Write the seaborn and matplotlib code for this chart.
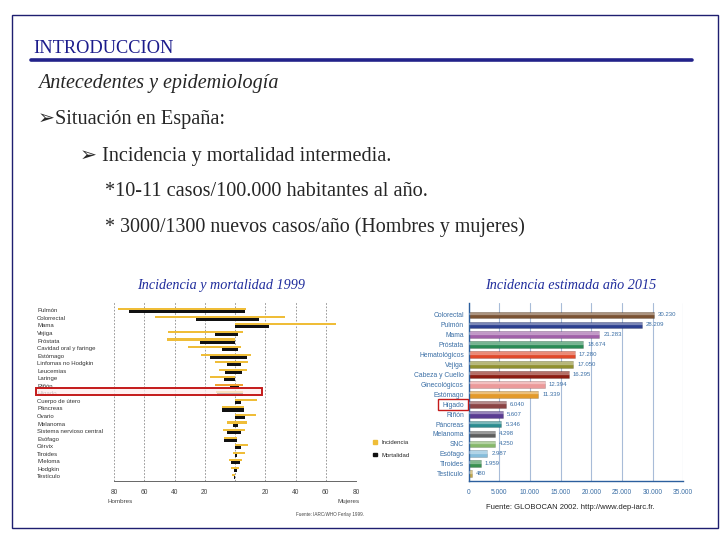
import pandas as pd
import matplotlib.pyplot as plt
import matplotlib.patches as mpatches
from matplotlib.lines import Line2D
import seaborn as sns

# Left chart data (rates per 100.000, 1999)
cancers_99 = ["Pulmón", "Colorrectal", "Mama", "Vejiga", "Próstata", "Cavidad oral y faringe",
              "Estómago", "Linfomas no Hodgkin", "Leucemias", "Laringe", "Riñón", "Hígado",
              "Cuerpo de útero", "Páncreas", "Ovario", "Melanoma", "Sistema nervioso central",
              "Esófago", "Cérvix", "Tiroides", "Mieloma", "Hodgkin", "Testículo"]
inc_men = [77.6, 52.6, 0, 44.5, 45, 31, 22.4, 13.2, 10.9, 16.8, 13.5, 12.5,
           0, 8.4, 0, 5.3, 8.1, 7.5, 0, 1.5, 4, 2.8, 2.2]
inc_women = [7.4, 32.8, 66.5, 5, 0, 4.2, 10.5, 8.8, 7.8, 0.3, 5.5, 5.5,
             14.7, 6, 13.6, 8.1, 6.4, 1.5, 8.6, 6.4, 4.4, 2.6, 0]
mort_men = [70, 26.1, 0, 12.9, 23, 8.9, 16.2, 5, 6.4, 7.4, 3.5, 11.9,
            0, 8.8, 0, 1.5, 5.5, 7.3, 0, 0.3, 2.4, 0.9, 0.5]
mort_women = [6.6, 15.6, 22.4, 2.2, 0, 1.7, 7.8, 3.7, 4.7, 0.2, 2.4, 5.3,
              3.8, 6, 6.8, 2, 4.2, 1.5, 3.7, 1, 3.3, 1, 0]
left_ticks = [-80, -60, -40, -20, 0, 20, 40, 60, 80]
left_ticklabels = ["80", "60", "40", "20", "", "20", "40", "60", "80"]

# Right chart data (estimated cases 2015)
cancers_15 = ["Colorectal", "Pulmón", "Mama", "Próstata", "Hematológicos", "Vejiga",
              "Cabeza y Cuello", "Ginecológicos", "Estómago", "Hígado", "Riñón", "Páncreas",
              "Melanoma", "SNC", "Esófago", "Tiroides", "Testículo"]
cases_15 = [30230, 28209, 21283, 18674, 17280, 17050, 16295, 12394, 11339,
            6040, 5607, 5346, 4298, 4250, 2987, 1959, 480]
bar_colors = ["#7a5233", "#2c3f8f", "#a060a8", "#2a8a55", "#e0492a", "#909030",
              "#8c1c12", "#eb9a9a", "#e39a2a", "#8c4545", "#5a3c92", "#2c8c90",
              "#5e5e5e", "#86b86a", "#86bddb", "#3a9050", "#c4a84a"]
right_ticks = [0, 5000, 10000, 15000, 20000, 25000, 30000, 35000]

sns.set_theme(style="white")
plt.rcParams["font.family"] = ["Liberation Sans", "DejaVu Sans"]
serif = ["Liberation Serif", "DejaVu Sans"]

W, H = 728, 546
fig = plt.figure(figsize=(7.28, 5.46), dpi=100)


def fx(x):
    return x / W


def fy(y):
    return 1 - y / H


# Slide frame and header
fig.add_artist(mpatches.Rectangle((fx(12), fy(528)), fx(706), (528 - 15) / H, fill=False,
                                  edgecolor="#1e1e70", lw=1.0, transform=fig.transFigure))
fig.add_artist(Line2D([fx(31), fx(692)], [fy(60), fy(60)], color="#22228a", lw=2.6,
                      transform=fig.transFigure))
fig.text(fx(33), fy(53), "INTRODUCCION", color="#1c1c8c", fontsize=13.2, family=serif)
fig.text(fx(38), fy(88), "Antecedentes y epidemiología", fontsize=14.5, style="italic", family=serif)
fig.text(fx(38), fy(124), "➢Situación en España:", fontsize=14.6, family=serif)
fig.text(fx(80), fy(161), "➢ Incidencia y mortalidad intermedia.", fontsize=14.6, family=serif)
fig.text(fx(105), fy(196), "*10-11 casos/100.000 habitantes al año.", fontsize=14.6, family=serif)
fig.text(fx(105), fy(232), "* 3000/1300 nuevos casos/año (Hombres y mujeres)", fontsize=14.4, family=serif)

fig.text(fx(221), fy(289), "Incidencia y mortalidad 1999", fontsize=10.2, style="italic",
         family=serif, color="#1f2c9c", ha="center")
fig.text(fx(571), fy(289), "Incidencia estimada año 2015", fontsize=10.2, style="italic",
         family=serif, color="#1f2c9c", ha="center")

# ---- Left chart: pyramid of incidence / mortality
ax1 = fig.add_axes([fx(114), fy(481), fx(356 - 114), (481 - 302) / H])
men = pd.DataFrame({
    "cancer": cancers_99 * 2,
    "tipo": ["Incidencia"] * len(cancers_99) + ["Mortalidad"] * len(cancers_99),
    "valor": [-v for v in inc_men] + [-v for v in mort_men],
})
women = pd.DataFrame({
    "cancer": cancers_99 * 2,
    "tipo": ["Incidencia"] * len(cancers_99) + ["Mortalidad"] * len(cancers_99),
    "valor": inc_women + mort_women,
})
pal = {"Incidencia": "#efbd38", "Mortalidad": "#111111"}
for d in (men, women):
    sns.barplot(data=d, x="valor", y="cancer", hue="tipo", hue_order=["Incidencia", "Mortalidad"],
                palette=pal, orient="h", width=0.8, dodge=True, saturation=1,
                legend=False, ax=ax1, linewidth=0)

# incidence bars a bit thinner; Riñón incidence highlighted in orange
ri = cancers_99.index("Riñón")
for p in ax1.patches:
    y0, h = p.get_y(), p.get_height()
    yc = y0 + h / 2
    if yc < round(yc):
        p.set_y(y0 + h * 0.3)
        p.set_height(h * 0.7)
        if round(yc) == ri:
            p.set_facecolor("#f0a030")

ax1.set_xlim(-80, 80)
ax1.set_ylim(len(cancers_99) - 0.4, -1.1)
ax1.set_xticks(left_ticks)
ax1.set_xticklabels(left_ticklabels)
ax1.set_yticks(range(len(cancers_99)))
ax1.set_yticklabels(cancers_99, ha="left", fontsize=4.3, color="#333333")
ax1.tick_params(axis="y", length=0, pad=(114 - 37) * 0.72)
ax1.tick_params(axis="x", length=2, direction="in", labelsize=4.8, colors="#444444", pad=6)
ax1.set_xlabel("")
ax1.set_ylabel("")
ax1.grid(axis="x", ls=(0, (2, 2)), color="#888888", lw=0.6)
ax1.grid(axis="y", visible=False)
ax1.set_axisbelow(True)
for s in ("top", "right", "left"):
    ax1.spines[s].set_visible(False)
ax1.spines["bottom"].set_color("#666666")
ax1.spines["bottom"].set_linewidth(0.7)

fig.text(fx(107), fy(503), "Hombres", fontsize=4.5, color="#444444")
fig.text(fx(360), fy(503), "Mujeres", fontsize=4.5, color="#444444", ha="right")
fig.text(fx(330), fy(516), "Fuente: IARC/WHO Ferlay 1999.", fontsize=3.3, color="#444444", ha="center")

handles = [mpatches.Patch(color=pal["Incidencia"], label="Incidencia"),
           mpatches.Patch(color=pal["Mortalidad"], label="Mortalidad")]
fig.legend(handles=handles, loc="center left", bbox_to_anchor=(fx(368), fy(449)), frameon=False,
           fontsize=4.3, handlelength=0.6, handleheight=0.6, handletextpad=0.8, labelspacing=1.2)

# red box around Hígado row
fig.add_artist(mpatches.Rectangle((fx(36), fy(394.5)), fx(262 - 36), 6.5 / H,
                                  facecolor=(1, 0.93, 0.93, 0.75), edgecolor="#c41a1a", lw=1.4,
                                  transform=fig.transFigure, zorder=5))

# ---- Right chart: estimated incidence 2015
ax2 = fig.add_axes([fx(468.7), fy(481), fx(683.3 - 468.7), (481 - 303) / H])
df15 = pd.DataFrame({"cancer": cancers_15, "casos": cases_15})
sns.barplot(data=df15, x="casos", y="cancer", hue="cancer", palette=bar_colors, orient="h",
            width=0.68, saturation=1, legend=False, ax=ax2, edgecolor="#00000040", linewidth=0.4)
for cont, v in zip(ax2.containers, cases_15):
    ax2.bar_label(cont, labels=[f"{v:,}".replace(",", ".")], padding=3, fontsize=4.3, color="#3a6ea5")
# glossy highlight on every bar
ax2.barh([c - 0.17 for c in range(len(cases_15))], cases_15, height=0.14, left=0,
         color="white", alpha=0.28, zorder=3)

ax2.set_xlim(0, 35000)
ax2.set_ylim(len(cancers_15) - 0.26, -1.21)
ax2.set_xticks(right_ticks)
ax2.set_xticklabels([f"{t:,}".replace(",", ".") for t in right_ticks])
ax2.tick_params(axis="x", length=2, direction="in", labelsize=4.8, colors="#3a6ea5", pad=6)
ax2.tick_params(axis="y", length=0, labelsize=4.9, colors="#3a6ea5", pad=3.5)
ax2.set_xlabel("")
ax2.set_ylabel("")
ax2.grid(axis="x", color="#a8bcd8", lw=0.8)
ax2.grid(axis="y", visible=False)
ax2.set_axisbelow(True)
for s in ("top", "right"):
    ax2.spines[s].set_visible(False)
for s in ("left", "bottom"):
    ax2.spines[s].set_color("#2c5f9e")
    ax2.spines[s].set_linewidth(1.0)

fig.add_artist(mpatches.Rectangle((fx(437.5), fy(410)), fx(30), 11 / H, fill=False,
                                  edgecolor="#c41a1a", lw=1.0, transform=fig.transFigure))
fig.text(fx(570), fy(509), "Fuente: GLOBOCAN 2002. http://www.dep-iarc.fr.", fontsize=5.5,
         color="#222222", ha="center")

fig.savefig("out.png", dpi=100)
